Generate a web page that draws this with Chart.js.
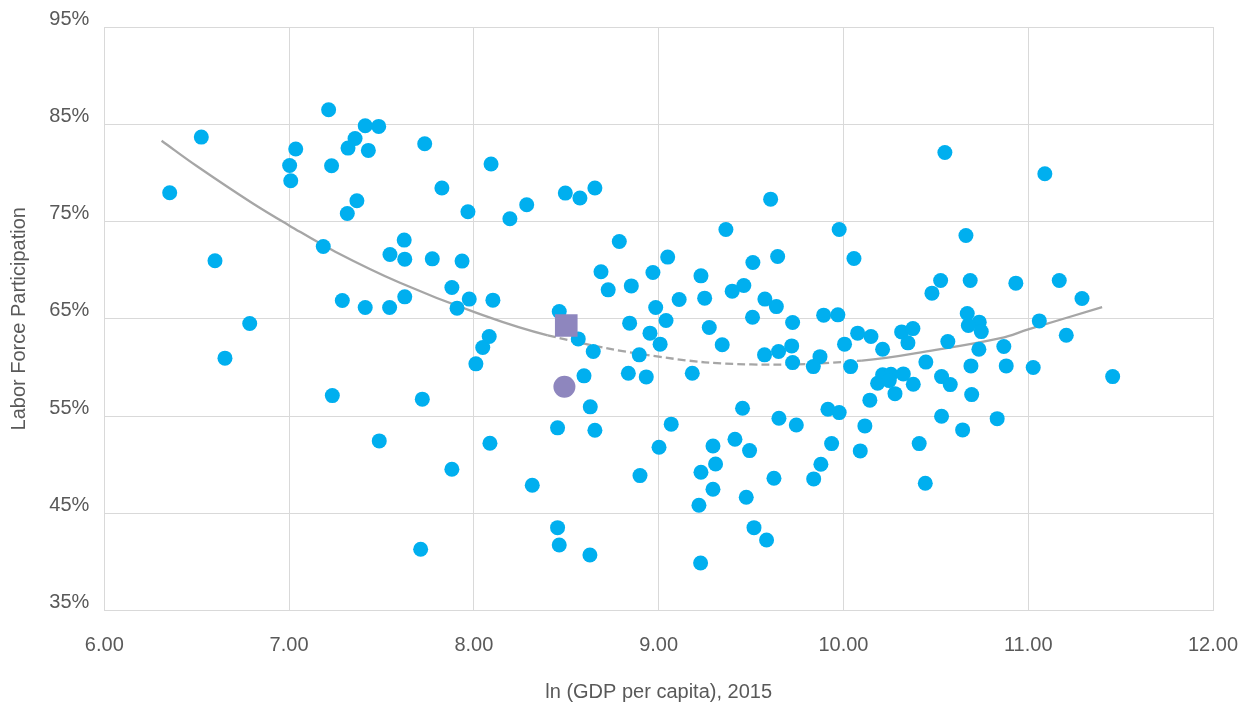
<!DOCTYPE html>
<html>
<head>
<meta charset="utf-8">
<script src="https://cdn.jsdelivr.net/npm/chart.js@4/dist/chart.umd.min.js"></script>
<style>
  html, body { margin: 0; padding: 0; background: #ffffff; }
  #wrap { width: 1250px; height: 709px; position: relative; }
</style>
</head>
<body>
<div id="wrap"><canvas id="c" width="1250" height="709"></canvas></div>
<script>
// ---- Data ----
const countryLnGdp = [
  7.214, 6.525, 7.412, 7.485, 7.357, 7.319, 7.036, 7.429, 7.734, 7.003,
  7.23, 7.009, 6.354, 7.827, 7.367, 7.315, 7.968, 7.623, 7.185, 7.546,
  7.626, 7.775, 7.936, 6.599, 7.881, 7.975, 7.288, 7.412, 7.544, 7.626,
  7.909, 6.787, 6.653,
  8.093, 8.195, 8.286, 8.495, 8.574, 8.655, 9.606, 9.364, 9.977, 8.787,
  9.049, 10.057, 9.51, 9.644, 8.688, 8.969, 9.229, 8.727, 8.852, 9.398,
  9.461, 9.111, 9.249, 9.575, 9.637, 8.103, 8.462, 8.984, 9.508, 9.893,
  9.970, 9.725, 8.843, 9.04, 9.274, 8.953, 8.083, 8.048, 8.565, 8.646,
  9.008, 9.344, 8.895, 9.573, 9.649, 9.72, 9.873, 10.006, 9.725,
  8.011, 9.837, 8.596, 8.836, 8.933, 9.182, 8.63, 9.454, 9.651, 9.745,
  9.916, 9.977, 8.453, 8.655, 9.068, 8.087, 9.002, 9.294, 9.413, 9.492,
  9.936, 9.308, 9.878, 9.229, 9.624, 9.839, 8.899, 9.294, 9.474, 8.316,
  9.218, 8.453, 9.516, 8.462, 9.584, 8.628, 9.227,
  7.234, 7.721, 7.488, 7.881, 7.712,
  10.549, 11.09, 10.663, 10.526, 10.686, 10.933, 11.168, 10.479, 11.291, 10.67,
  10.735, 10.676, 10.746, 11.06, 11.206, 10.077, 10.149, 10.212, 10.315, 10.376,
  10.349, 10.565, 10.733, 10.868,
  10.039, 10.446, 10.69, 10.881, 11.027, 11.457, 10.212, 10.257, 10.324, 10.185,
  10.248, 10.378, 10.531, 10.578, 10.694, 10.279, 10.143, 10.116, 10.531, 10.832,
  10.645, 10.091, 10.41, 10.443
];
const countryLfp = [
  86.49, 83.68, 84.85, 84.78, 83.54, 82.55, 82.45, 82.31, 83.0, 80.76,
  80.73, 79.19, 77.95, 78.44, 77.13, 75.82, 76.0, 73.09, 72.43, 71.61,
  71.13, 71.16, 70.93, 70.96, 68.21, 67.02, 66.88, 66.15, 66.15, 67.25,
  66.09, 64.51, 60.95,
  80.91, 75.28, 76.72, 77.92, 77.41, 78.44, 77.3, 74.18, 74.18, 72.94,
  71.34, 71.2, 70.78, 71.4, 69.83, 69.76, 69.41, 67.97, 68.38, 67.84,
  68.42, 66.98, 67.12, 67.02, 66.25, 66.91, 65.74, 66.15, 65.16, 65.37,
  65.40, 64.61, 64.55, 64.82, 64.1, 63.52, 63.17, 62.04, 62.93, 61.63,
  62.39, 62.32, 61.29, 61.29, 61.63, 62.21, 61.1, 62.39, 60.49,
  60.36, 60.08, 59.13, 59.4, 59.02, 59.4, 55.94, 55.8, 54.77, 54.08,
  55.7, 55.35, 53.78, 53.54, 54.16, 52.2, 51.79, 51.92, 52.61, 51.44,
  52.16, 50.07, 50.04, 49.22, 48.6, 48.53, 48.87, 47.47, 46.65, 47.88,
  45.82, 43.52, 43.52, 41.74, 42.25, 40.71, 39.89,
  57.1, 56.73, 52.44, 49.53, 41.3,
  82.1, 79.91, 73.56, 68.93, 68.93, 68.66, 68.93, 67.63, 67.08, 65.54,
  64.65, 64.3, 63.68, 64.78, 63.31, 63.52, 63.17, 61.87, 63.65, 63.99,
  62.52, 62.65, 61.87, 62.14,
  60.08, 60.54, 60.15, 60.15, 59.98, 59.05, 59.23, 59.3, 59.33, 58.37,
  58.64, 58.27, 59.05, 58.23, 57.2, 57.3, 56.63, 53.98, 54.98, 54.73,
  53.57, 51.41, 52.16, 48.09
];
const highlightSquareX = [8.50];
const highlightSquareY = [64.3];
const highlightCircleX = [8.49];
const highlightCircleY = [58.0];
const trendX = [6.31, 6.5, 6.8, 7.0, 7.25, 7.6, 8.0, 8.4, 9.0, 9.5, 10.1, 10.5, 10.85, 11.0, 11.4];
const trendY = [83.3, 80.7, 76.9, 74.6, 71.9, 68.7, 65.7, 63.3, 61.1, 60.3, 60.7, 61.8, 63.0, 63.9, 66.2];
const xTickValues = [6, 7, 8, 9, 10, 11, 12];
const yTickValues = [35, 45, 55, 65, 75, 85, 95];
const xTitle = 'ln (GDP per capita), 2015';
const yTitle = 'Labor Force Participation';
const dashedFrom = 8.4;
const dashedTo = 10.1;

// ---- Build datasets ----
const zip = (xs, ys) => xs.map((x, i) => ({ x: x, y: ys[i] }));

const FONT = { family: '"Liberation Sans", Arial, Helvetica, sans-serif', size: 20 };
const TEXT = '#595959';
const GRID = '#D9D9D9';

new Chart(document.getElementById('c'), {
  type: 'scatter',
  data: {
    datasets: [
      {
        label: 'Trend',
        data: zip(trendX, trendY),
        showLine: true,
        pointRadius: 0,
        borderColor: '#A6A6A6',
        borderWidth: 2.3,
        tension: 0.4,
        fill: false,
        order: 3,
        segment: {
          borderDash: ctx => (ctx.p0.parsed.x >= dashedFrom - 1e-6 && ctx.p1.parsed.x <= dashedTo + 1e-6) ? [8, 4] : undefined
        }
      },
      {
        label: 'Countries',
        data: zip(countryLnGdp, countryLfp),
        pointRadius: 7.5,
        pointHoverRadius: 7.5,
        backgroundColor: '#00AFEF',
        borderColor: '#00AFEF',
        borderWidth: 0,
        order: 2
      },
      {
        label: 'Square',
        data: zip(highlightSquareX, highlightSquareY),
        pointStyle: 'rect',
        pointRadius: 16,
        pointHoverRadius: 16,
        backgroundColor: '#8E86BE',
        borderColor: '#8E86BE',
        borderWidth: 0,
        order: 1
      },
      {
        label: 'Circle',
        data: zip(highlightCircleX, highlightCircleY),
        pointRadius: 11,
        pointHoverRadius: 11,
        backgroundColor: '#8E86BE',
        borderColor: '#8E86BE',
        borderWidth: 0,
        order: 1
      }
    ]
  },
  options: {
    responsive: false,
    animation: false,
    devicePixelRatio: 1,
    layout: { padding: { top: 27, right: 37, left: 0, bottom: 0 } },
    plugins: {
      legend: { display: false },
      tooltip: { enabled: false }
    },
    scales: {
      x: {
        type: 'linear',
        min: 6,
        max: 12,
        afterBuildTicks: scale => { scale.ticks = xTickValues.map(v => ({ value: v })); },
        afterFit: scale => {
          scale.height = 98.5;
          scale.paddingLeft = 0;
          scale.paddingRight = 0;
        },
        grid: { color: GRID, lineWidth: 1, drawTicks: false },
        border: { color: GRID, width: 1 },
        ticks: {
          padding: 23,
          color: TEXT,
          font: FONT,
          callback: v => Number(v).toFixed(2)
        },
        title: {
          display: true,
          text: xTitle,
          color: TEXT,
          font: FONT,
          padding: { top: 0, bottom: 5 }
        }
      },
      y: {
        type: 'linear',
        min: 35,
        max: 95,
        afterBuildTicks: scale => { scale.ticks = yTickValues.map(v => ({ value: v })); },
        afterFit: scale => {
          scale.width = 104.3;
          scale.paddingTop = 0;
          scale.paddingBottom = 0;
        },
        grid: { color: GRID, lineWidth: 1, drawTicks: false },
        border: { color: GRID, width: 1 },
        ticks: {
          padding: 15,
          labelOffset: -8,
          color: TEXT,
          font: FONT,
          callback: v => v + '%'
        },
        title: {
          display: true,
          text: yTitle,
          color: TEXT,
          font: FONT,
          padding: { top: 7, bottom: 0 }
        }
      }
    }
  },
  plugins: [{
    id: 'whiteBg',
    beforeDraw: chart => {
      const ctx = chart.ctx;
      ctx.save();
      ctx.fillStyle = '#ffffff';
      ctx.fillRect(0, 0, chart.width, chart.height);
      ctx.restore();
    }
  }]
});
</script>
</body>
</html>
